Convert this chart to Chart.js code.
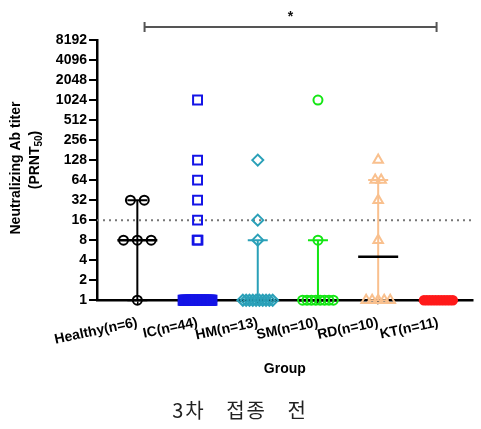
<!DOCTYPE html>
<html>
<head>
<meta charset="utf-8">
<script src="https://cdn.jsdelivr.net/npm/chart.js@4.4.1/dist/chart.umd.min.js"></script>
<style>
  html, body { margin: 0; padding: 0; background: #fff; }
  #wrap { width: 481px; height: 429px; }
</style>
</head>
<body>
<div id="wrap"><canvas id="c"></canvas></div>
<script>
// groups along x
const groups = ['Healthy(n=6)', 'IC(n=44)', 'HM(n=13)', 'SM(n=10)', 'RD(n=10)', 'KT(n=11)'];
const yTicks = [1, 2, 4, 8, 16, 32, 64, 128, 256, 512, 1024, 2048, 4096, 8192];

// individual titers per group
const healthy = [1, 8, 8, 8, 32, 32];
const ic = [1024, 128, 64, 32, 16, 8, 8,
  1, 1, 1, 1, 1, 1, 1, 1, 1, 1, 1, 1, 1, 1, 1, 1, 1, 1, 1, 1,
  1, 1, 1, 1, 1, 1, 1, 1, 1, 1, 1, 1, 1, 1, 1, 1, 1, 1];
const hm = [128, 16, 8, 1, 1, 1, 1, 1, 1, 1, 1, 1, 1];
const sm = [1024, 8, 1, 1, 1, 1, 1, 1, 1, 1];
const rd = [128, 64, 64, 32, 8, 1, 1, 1, 1, 1];
const kt = [1, 1, 1, 1, 1, 1, 1, 1, 1, 1, 1];

// summary bars
const medians = [8, 1, 1, 1, 4.5, 1];
const rangeLow = [1, null, 1, 1, 1, null];
const rangeHigh = [32, null, 8, 8, 64, null];

const colors = ['#000000', '#1414e6', '#2aa0b8', '#14e614', '#f9c08e', '#ff1a1a'];
const styles = ['circle', 'rect', 'rectRot', 'circle', 'triangle', 'circle'];
const radii = [4.5, 6.3, 5.5, 4.5, 5.5, 4.2];
const fills = ['rgba(0,0,0,0)', 'rgba(0,0,0,0)', 'rgba(0,0,0,0)', 'rgba(0,0,0,0)', 'rgba(0,0,0,0)', '#ff1a1a'];
const spread = [0.23, 0.013, 0.055, 0.073, 0.1, 0.048]; // swarm step, category units

function swarm(values, gi) {
  const counts = {}, seen = {};
  values.forEach(v => { counts[v] = (counts[v] || 0) + 1; });
  return values.map(v => {
    const k = seen[v] = (seen[v] === undefined ? 0 : seen[v] + 1);
    return { x: gi + (k - (counts[v] - 1) / 2) * spread[gi], y: v };
  });
}

const series = [healthy, ic, hm, sm, rd, kt];
const datasets = series.map((vals, gi) => ({
  label: groups[gi],
  data: swarm(vals, gi),
  pointStyle: styles[gi],
  pointRadius: radii[gi],
  borderColor: colors[gi],
  backgroundColor: fills[gi],
  pointBorderWidth: 2,
  clip: false
}));

const font = '"Liberation Sans", Arial, sans-serif';

const extras = {
  id: 'extras',
  beforeDatasetsDraw(chart) {
    const { ctx, chartArea, scales: { x, y } } = chart;
    ctx.save();
    // threshold at 16
    ctx.strokeStyle = '#777';
    ctx.lineWidth = 2;
    ctx.setLineDash([2, 4]);
    const y16 = y.getPixelForValue(16);
    ctx.beginPath();
    ctx.moveTo(chartArea.left, y16);
    ctx.lineTo(chartArea.right, y16);
    ctx.stroke();
    ctx.setLineDash([]);
    // range + median
    groups.forEach((g, i) => {
      const cx = x.getPixelForValue(i);
      if (rangeHigh[i] !== null) {
        const yl = y.getPixelForValue(rangeLow[i]);
        const yh = y.getPixelForValue(rangeHigh[i]);
        ctx.strokeStyle = colors[i];
        ctx.lineWidth = 2;
        ctx.beginPath();
        ctx.moveTo(cx, yl); ctx.lineTo(cx, yh);
        ctx.moveTo(cx - 10, yh); ctx.lineTo(cx + 10, yh);
        ctx.moveTo(cx - 10, yl); ctx.lineTo(cx + 10, yl);
        ctx.stroke();
      }
      const ym = y.getPixelForValue(medians[i]);
      ctx.strokeStyle = '#000';
      ctx.lineWidth = 2.5;
      ctx.beginPath();
      ctx.moveTo(cx - 20, ym); ctx.lineTo(cx + 20, ym);
      ctx.stroke();
    });
    ctx.restore();
  },
  afterDraw(chart) {
    const { ctx, scales: { x } } = chart;
    // significance bracket
    const x1 = x.getPixelForValue(0.12), x2 = x.getPixelForValue(4.97);
    const yb = 27;
    ctx.save();
    ctx.strokeStyle = '#555';
    ctx.lineWidth = 2;
    ctx.beginPath();
    ctx.moveTo(x1, yb); ctx.lineTo(x2, yb);
    ctx.moveTo(x1, yb - 5); ctx.lineTo(x1, yb + 5);
    ctx.moveTo(x2, yb - 5); ctx.lineTo(x2, yb + 5);
    ctx.stroke();
    ctx.fillStyle = '#111';
    ctx.font = 'bold 14px ' + font;
    ctx.textAlign = 'center';
    ctx.textBaseline = 'middle';
    ctx.fillText('*', (x1 + x2) / 2, 17);

    // y axis title with subscript
    ctx.save();
    ctx.translate(16, 168);
    ctx.rotate(-Math.PI / 2);
    ctx.fillStyle = '#000';
    ctx.font = 'bold 14px ' + font;
    ctx.fillText('Neutralizing Ab titer', 0, 0);
    ctx.restore();
    ctx.save();
    ctx.translate(35, 160);
    ctx.rotate(-Math.PI / 2);
    ctx.fillStyle = '#000';
    ctx.textAlign = 'left';
    const big = 'bold 14px ' + font, small = 'bold 10px ' + font;
    ctx.font = big;
    const wA = ctx.measureText('(PRNT').width, wC = ctx.measureText(')').width;
    ctx.font = small;
    const wB = ctx.measureText('50').width;
    let px = -(wA + wB + wC) / 2;
    ctx.font = big; ctx.fillText('(PRNT', px, 0); px += wA;
    ctx.font = small; ctx.fillText('50', px, 4); px += wB;
    ctx.font = big; ctx.fillText(')', px, 0);
    ctx.restore();

    // caption below
    ctx.fillStyle = '#222';
    ctx.font = '20px "Noto Sans CJK KR", sans-serif';
    ctx.letterSpacing = '2px';
    ctx.wordSpacing = '14px';
    ctx.textAlign = 'center';
    ctx.fillText('3차 접종 전', 240, 410);
    ctx.restore();
  }
};

new Chart(document.getElementById('c'), {
  type: 'scatter',
  data: { datasets },
  plugins: [extras],
  options: {
    responsive: true,
    maintainAspectRatio: false,
    animation: false,
    layout: { padding: { top: 40, right: 0, left: 0, bottom: 51 } },
    plugins: {
      legend: { display: false },
      tooltip: { enabled: false }
    },
    scales: {
      x: {
        type: 'linear',
        min: -0.67,
        max: 5.57,
        afterBuildTicks: s => { s.ticks = groups.map((g, i) => ({ value: i })); },
        ticks: {
          autoSkip: false,
          minRotation: 12,
          maxRotation: 12,
          padding: 10,
          color: '#000',
          font: { family: font, size: 14, weight: 'bold' },
          callback: (v, i) => groups[i]
        },
        grid: { drawOnChartArea: false, color: '#000', tickLength: 4, lineWidth: 1.5 },
        border: { color: '#000', width: 2.5 },
        title: {
          display: true,
          text: 'Group',
          color: '#000',
          font: { family: font, size: 14, weight: 'bold' },
          padding: { top: 3, bottom: 0 }
        }
      },
      y: {
        type: 'logarithmic',
        min: 1,
        max: 8192,
        afterBuildTicks: s => { s.ticks = yTicks.map(v => ({ value: v })); },
        afterFit: s => { s.width = 97; },
        ticks: {
          autoSkip: false,
          color: '#000',
          padding: 2,
          font: { family: font, size: 14, weight: 'bold' },
          callback: v => String(v)
        },
        grid: { drawOnChartArea: false, color: '#000', tickLength: 8, lineWidth: 2 },
        border: { color: '#000', width: 2.5 }
      }
    }
  }
});
</script>
</body>
</html>
